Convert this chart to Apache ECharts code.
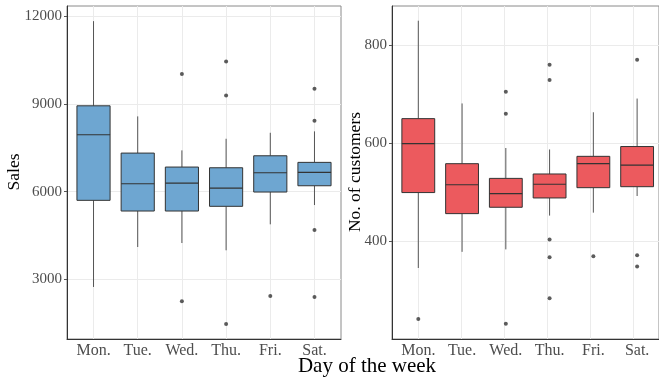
<!DOCTYPE html>
<html>
<head>
<meta charset="utf-8">
<script src="https://cdn.jsdelivr.net/npm/echarts@6/dist/echarts.min.js"></script>
<style>html,body{margin:0;padding:0;background:#fff;}#c{width:659px;height:377px;}</style>
</head>
<body>
<div id="c"></div>
<script>
const days = ['Mon.', 'Tue.', 'Wed.', 'Thu.', 'Fri.', 'Sat.'];
// [lower whisker, Q1, median, Q3, upper whisker]
const salesBox = [
  [2737, 5702, 7946, 8937, 11834],
  [4105, 5336, 6270, 7319, 8575],
  [4241, 5336, 6293, 6841, 7412],
  [3992, 5497, 6122, 6817, 7809],
  [4881, 5986, 6646, 7227, 8014],
  [5541, 6201, 6659, 7001, 8062]
];
const salesOutliers = [
  ['Wed.', 10021], ['Wed.', 2248],
  ['Thu.', 10456], ['Thu.', 9293], ['Thu.', 1471],
  ['Fri.', 2429],
  ['Sat.', 9519], ['Sat.', 8424], ['Sat.', 4686], ['Sat.', 2395]
];
const customersBox = [
  [345, 499, 599, 650, 850],
  [378, 456, 515, 558, 681],
  [383, 469, 497, 528, 590],
  [452, 488, 516, 537, 587],
  [458, 509, 558, 573, 663],
  [492, 511, 555, 593, 691]
];
const customersOutliers = [
  ['Mon.', 241],
  ['Wed.', 705], ['Wed.', 660], ['Wed.', 231],
  ['Thu.', 760], ['Thu.', 729], ['Thu.', 403], ['Thu.', 367], ['Thu.', 283],
  ['Fri.', 369],
  ['Sat.', 770], ['Sat.', 371], ['Sat.', 348]
];
const salesTicks = [3000, 6000, 9000, 12000];
const customersTicks = [400, 600, 800];
const catCenters = [0, 1, 2, 3, 4, 5];

const FONT = '"Liberation Serif", "DejaVu Serif", serif';
const gridColor = '#ebebeb';
const dark = '#333333';

function outerX(gi) {
  return {
    type: 'value', gridIndex: gi, min: -0.6, max: 5.6,
    axisLine: { show: true, onZero: false, lineStyle: { color: dark, width: 1 } },
    axisTick: { show: false, customValues: catCenters },
    axisLabel: { show: false },
    splitLine: { show: true, lineStyle: { color: gridColor, width: 1 } }
  };
}
function outerY(gi, min, max, ticks) {
  return {
    type: 'value', gridIndex: gi, min: min, max: max,
    axisLine: { show: true, onZero: false, lineStyle: { color: dark, width: 1 } },
    axisTick: { show: true, length: 3, customValues: ticks, lineStyle: { color: '#555' } },
    axisLabel: { show: true, customValues: ticks, formatter: v => String(v), fontFamily: FONT, fontSize: 15, color: '#4d4d4d', margin: 5 },
    splitLine: { show: true, lineStyle: { color: gridColor, width: 1 } }
  };
}
function innerX(gi) {
  return {
    type: 'category', gridIndex: gi, data: days,
    axisLine: { show: false, onZero: false }, axisTick: { show: false },
    axisLabel: { interval: 0, fontFamily: FONT, fontSize: 16, color: '#4d4d4d', margin: 4 },
    splitLine: { show: false }
  };
}
function innerY(gi, min, max) {
  return { type: 'value', gridIndex: gi, min: min, max: max, show: false, splitLine: { show: false } };
}

function boxItem(params, api) {
  const x = api.value(0);
  const pLo = api.coord([x, api.value(1)]);
  const pQ1 = api.coord([x, api.value(2)]);
  const pMed = api.coord([x, api.value(3)]);
  const pQ3 = api.coord([x, api.value(4)]);
  const pHi = api.coord([x, api.value(5)]);
  const half = api.size([1, 0])[0] * 0.75 / 2;
  const cx = pMed[0];
  const fill = api.visual('color');
  return {
    type: 'group',
    children: [
      { type: 'line', shape: { x1: cx, y1: pLo[1], x2: cx, y2: pQ1[1] }, style: { stroke: '#555', lineWidth: 1 } },
      { type: 'line', shape: { x1: cx, y1: pQ3[1], x2: cx, y2: pHi[1] }, style: { stroke: '#555', lineWidth: 1 } },
      { type: 'rect', shape: { x: cx - half, y: pQ3[1], width: 2 * half, height: pQ1[1] - pQ3[1] }, style: { fill: fill, stroke: dark, lineWidth: 1 } },
      { type: 'line', shape: { x1: cx - half, y1: pMed[1], x2: cx + half, y2: pMed[1] }, style: { stroke: dark, lineWidth: 1.2 } }
    ]
  };
}

const L0 = 67, R0 = 392, W = 274, band = W / 6.2, pad = band * 0.1;
const chart = echarts.init(document.getElementById('c'), null, { renderer: 'canvas' });
chart.setOption({
  animation: false,
  backgroundColor: '#ffffff',
  grid: [
    { left: L0, top: 6, width: W, height: 333, show: true, borderColor: '#8a8a8a', borderWidth: 1, backgroundColor: '#fff' },
    { left: L0 + pad, top: 6, width: W - 2 * pad, height: 333 },
    { left: R0, top: 6, width: W, height: 333, show: true, borderColor: '#8a8a8a', borderWidth: 1, backgroundColor: '#fff' },
    { left: R0 + pad, top: 6, width: W - 2 * pad, height: 333 }
  ],
  xAxis: [outerX(0), innerX(1), outerX(2), innerX(3)],
  yAxis: [
    outerY(0, 957, 12352, salesTicks), innerY(1, 957, 12352),
    outerY(2, 200, 880, customersTicks), innerY(3, 200, 880)
  ],
  series: [
    {
      type: 'custom', xAxisIndex: 1, yAxisIndex: 1, renderItem: boxItem,
      data: salesBox.map((b, i) => [i].concat(b)),
      encode: { x: 0, y: [1, 2, 3, 4, 5] },
      itemStyle: { color: '#6ea6d1' }
    },
    {
      type: 'scatter', xAxisIndex: 1, yAxisIndex: 1, data: salesOutliers, symbolSize: 4,
      itemStyle: { color: dark }
    },
    {
      type: 'custom', xAxisIndex: 3, yAxisIndex: 3, renderItem: boxItem,
      data: customersBox.map((b, i) => [i].concat(b)),
      encode: { x: 0, y: [1, 2, 3, 4, 5] },
      itemStyle: { color: '#ec5a5e' }
    },
    {
      type: 'scatter', xAxisIndex: 3, yAxisIndex: 3, data: customersOutliers, symbolSize: 4,
      itemStyle: { color: dark }
    }
  ],
  graphic: [
    { type: 'text', x: 367, y: 366, style: { text: 'Day of the week', font: '21px ' + FONT, fill: '#000', align: 'center', verticalAlign: 'middle' } },
    { type: 'text', x: 14, y: 172, rotation: Math.PI / 2, style: { text: 'Sales', font: '17.5px ' + FONT, fill: '#000', align: 'center', verticalAlign: 'middle' } },
    { type: 'text', x: 355, y: 172, rotation: Math.PI / 2, style: { text: 'No. of customers', font: '17.5px ' + FONT, fill: '#000', align: 'center', verticalAlign: 'middle' } }
  ]
});
</script>
</body>
</html>
